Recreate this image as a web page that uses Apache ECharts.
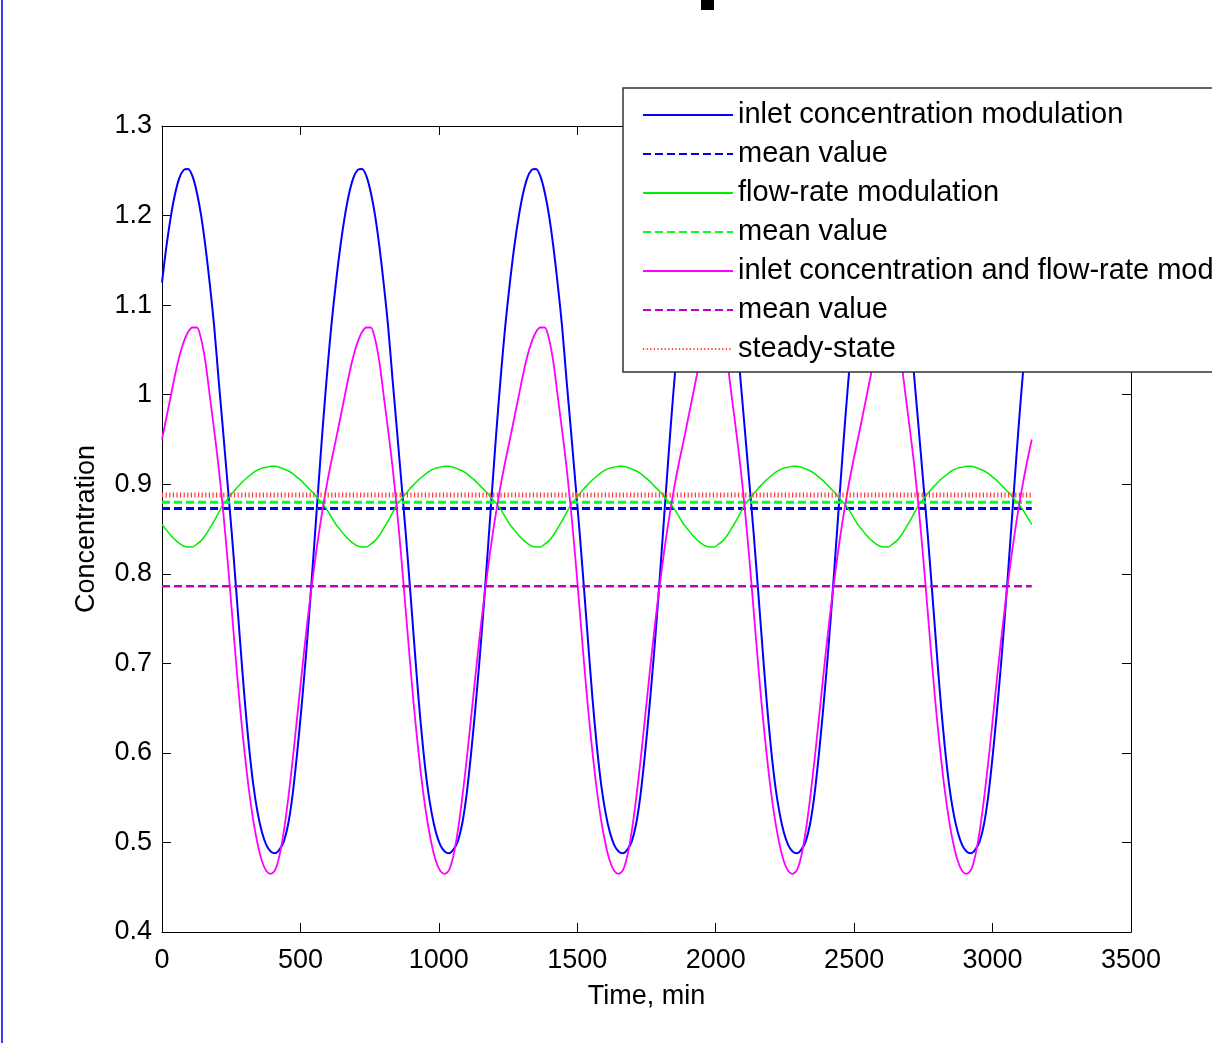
<!DOCTYPE html>
<html>
<head>
<meta charset="utf-8">
<script src="https://cdn.jsdelivr.net/npm/echarts@6/dist/echarts.min.js"></script>
<style>
html,body{margin:0;padding:0;background:#fff;}
#chart{width:1212px;height:1043px;}
</style>
</head>
<body>
<div id="chart"></div>
<script>
// time samples (min)
const timeMin = [0,
  15.7, 31.4, 47.1, 62.8, 78.5, 94.2, 110.0, 125.7, 141.4, 157.1, 172.8, 188.5, 204.2, 219.9, 235.6, 251.3, 267.0, 282.7, 298.5, 314.2,
  329.9, 345.6, 361.3, 377.0, 392.7, 408.4, 424.1, 439.8, 455.5, 471.2, 486.9, 502.7, 518.4, 534.1, 549.8, 565.5, 581.2, 596.9, 612.6, 628.3,
  644.0, 659.7, 675.4, 691.2, 706.9, 722.6, 738.3, 754.0, 769.7, 785.4, 801.1, 816.8, 832.5, 848.2, 863.9, 879.6, 895.4, 911.1, 926.8, 942.5,
  958.2, 973.9, 989.6, 1005.3, 1021.0, 1036.7, 1052.4, 1068.1, 1083.8, 1099.6, 1115.3, 1131.0, 1146.7, 1162.4, 1178.1, 1193.8, 1209.5, 1225.2, 1240.9, 1256.6,
  1272.3, 1288.1, 1303.8, 1319.5, 1335.2, 1350.9, 1366.6, 1382.3, 1398.0, 1413.7, 1429.4, 1445.1, 1460.8, 1476.5, 1492.3, 1508.0, 1523.7, 1539.4, 1555.1, 1570.8,
  1586.5, 1602.2, 1617.9, 1633.6, 1649.3, 1665.0, 1680.7, 1696.5, 1712.2, 1727.9, 1743.6, 1759.3, 1775.0, 1790.7, 1806.4, 1822.1, 1837.8, 1853.5, 1869.2, 1885.0,
  1900.7, 1916.4, 1932.1, 1947.8, 1963.5, 1979.2, 1994.9, 2010.6, 2026.3, 2042.0, 2057.7, 2073.5, 2089.2, 2104.9, 2120.6, 2136.3, 2152.0, 2167.7, 2183.4, 2199.1,
  2214.8, 2230.5, 2246.2, 2261.9, 2277.7, 2293.4, 2309.1, 2324.8, 2340.5, 2356.2, 2371.9, 2387.6, 2403.3, 2419.0, 2434.7, 2450.4, 2466.2, 2481.9, 2497.6, 2513.3,
  2529.0, 2544.7, 2560.4, 2576.1, 2591.8, 2607.5, 2623.2, 2638.9, 2654.6, 2670.4, 2686.1, 2701.8, 2717.5, 2733.2, 2748.9, 2764.6, 2780.3, 2796.0, 2811.7, 2827.4,
  2843.1, 2858.8, 2874.6, 2890.3, 2906.0, 2921.7, 2937.4, 2953.1, 2968.8, 2984.5, 3000.2, 3015.9, 3031.6, 3047.3, 3063.1, 3078.8, 3094.5, 3110.2, 3125.9, 3141.6];

// inlet concentration modulation
const inletConc = [
  1.125, 1.165, 1.198, 1.224, 1.242, 1.251, 1.252, 1.244, 1.226, 1.200, 1.165, 1.123, 1.076, 1.018, 0.962, 0.905, 0.848, 0.786, 0.722, 0.660,
  0.607, 0.564, 0.533, 0.511, 0.497, 0.490, 0.488, 0.492, 0.501, 0.520, 0.552, 0.596, 0.647, 0.703, 0.765, 0.832, 0.900, 0.966, 1.026, 1.080,
  1.125, 1.165, 1.198, 1.224, 1.242, 1.251, 1.252, 1.244, 1.226, 1.200, 1.165, 1.123, 1.076, 1.018, 0.962, 0.905, 0.848, 0.786, 0.722, 0.660,
  0.607, 0.564, 0.533, 0.511, 0.497, 0.490, 0.488, 0.492, 0.501, 0.520, 0.552, 0.596, 0.647, 0.703, 0.765, 0.832, 0.900, 0.966, 1.026, 1.080,
  1.125, 1.165, 1.198, 1.224, 1.242, 1.251, 1.252, 1.244, 1.226, 1.200, 1.165, 1.123, 1.076, 1.018, 0.962, 0.905, 0.848, 0.786, 0.722, 0.660,
  0.607, 0.564, 0.533, 0.511, 0.497, 0.490, 0.488, 0.492, 0.501, 0.520, 0.552, 0.596, 0.647, 0.703, 0.765, 0.832, 0.900, 0.966, 1.026, 1.080,
  1.125, 1.165, 1.198, 1.224, 1.242, 1.251, 1.252, 1.244, 1.226, 1.200, 1.165, 1.123, 1.076, 1.018, 0.962, 0.905, 0.848, 0.786, 0.722, 0.660,
  0.607, 0.564, 0.533, 0.511, 0.497, 0.490, 0.488, 0.492, 0.501, 0.520, 0.552, 0.596, 0.647, 0.703, 0.765, 0.832, 0.900, 0.966, 1.026, 1.080,
  1.125, 1.165, 1.198, 1.224, 1.242, 1.251, 1.252, 1.244, 1.226, 1.200, 1.165, 1.123, 1.076, 1.018, 0.962, 0.905, 0.848, 0.786, 0.722, 0.660,
  0.607, 0.564, 0.533, 0.511, 0.497, 0.490, 0.488, 0.492, 0.501, 0.520, 0.552, 0.596, 0.647, 0.703, 0.765, 0.832, 0.900, 0.966, 1.026, 1.080,
  1.125];

// flow-rate modulation
const flowRate = [
  0.855, 0.849, 0.843, 0.838, 0.834, 0.831, 0.830, 0.830, 0.833, 0.837, 0.843, 0.851, 0.859, 0.868, 0.877, 0.883, 0.889, 0.895, 0.900, 0.905,
  0.909, 0.913, 0.916, 0.918, 0.919, 0.920, 0.920, 0.919, 0.917, 0.915, 0.912, 0.908, 0.904, 0.899, 0.894, 0.889, 0.883, 0.878, 0.871, 0.863,
  0.855, 0.849, 0.843, 0.838, 0.834, 0.831, 0.830, 0.830, 0.833, 0.837, 0.843, 0.851, 0.859, 0.868, 0.877, 0.883, 0.889, 0.895, 0.900, 0.905,
  0.909, 0.913, 0.916, 0.918, 0.919, 0.920, 0.920, 0.919, 0.917, 0.915, 0.912, 0.908, 0.904, 0.899, 0.894, 0.889, 0.883, 0.878, 0.871, 0.863,
  0.855, 0.849, 0.843, 0.838, 0.834, 0.831, 0.830, 0.830, 0.833, 0.837, 0.843, 0.851, 0.859, 0.868, 0.877, 0.883, 0.889, 0.895, 0.900, 0.905,
  0.909, 0.913, 0.916, 0.918, 0.919, 0.920, 0.920, 0.919, 0.917, 0.915, 0.912, 0.908, 0.904, 0.899, 0.894, 0.889, 0.883, 0.878, 0.871, 0.863,
  0.855, 0.849, 0.843, 0.838, 0.834, 0.831, 0.830, 0.830, 0.833, 0.837, 0.843, 0.851, 0.859, 0.868, 0.877, 0.883, 0.889, 0.895, 0.900, 0.905,
  0.909, 0.913, 0.916, 0.918, 0.919, 0.920, 0.920, 0.919, 0.917, 0.915, 0.912, 0.908, 0.904, 0.899, 0.894, 0.889, 0.883, 0.878, 0.871, 0.863,
  0.855, 0.849, 0.843, 0.838, 0.834, 0.831, 0.830, 0.830, 0.833, 0.837, 0.843, 0.851, 0.859, 0.868, 0.877, 0.883, 0.889, 0.895, 0.900, 0.905,
  0.909, 0.913, 0.916, 0.918, 0.919, 0.920, 0.920, 0.919, 0.917, 0.915, 0.912, 0.908, 0.904, 0.899, 0.894, 0.889, 0.883, 0.878, 0.871, 0.863,
  0.855];

// inlet concentration and flow-rate modulation
const bothMod = [
  0.950, 0.974, 0.998, 1.022, 1.043, 1.059, 1.070, 1.075, 1.075, 1.062, 1.036, 0.998, 0.960, 0.920, 0.873, 0.820, 0.762, 0.703, 0.648, 0.600,
  0.558, 0.524, 0.498, 0.479, 0.468, 0.465, 0.469, 0.485, 0.512, 0.548, 0.590, 0.636, 0.683, 0.728, 0.770, 0.808, 0.843, 0.874, 0.902, 0.927,
  0.950, 0.974, 0.998, 1.022, 1.043, 1.059, 1.070, 1.075, 1.075, 1.062, 1.036, 0.998, 0.960, 0.920, 0.873, 0.820, 0.762, 0.703, 0.648, 0.600,
  0.558, 0.524, 0.498, 0.479, 0.468, 0.465, 0.469, 0.485, 0.512, 0.548, 0.590, 0.636, 0.683, 0.728, 0.770, 0.808, 0.843, 0.874, 0.902, 0.927,
  0.950, 0.974, 0.998, 1.022, 1.043, 1.059, 1.070, 1.075, 1.075, 1.062, 1.036, 0.998, 0.960, 0.920, 0.873, 0.820, 0.762, 0.703, 0.648, 0.600,
  0.558, 0.524, 0.498, 0.479, 0.468, 0.465, 0.469, 0.485, 0.512, 0.548, 0.590, 0.636, 0.683, 0.728, 0.770, 0.808, 0.843, 0.874, 0.902, 0.927,
  0.950, 0.974, 0.998, 1.022, 1.043, 1.059, 1.070, 1.075, 1.075, 1.062, 1.036, 0.998, 0.960, 0.920, 0.873, 0.820, 0.762, 0.703, 0.648, 0.600,
  0.558, 0.524, 0.498, 0.479, 0.468, 0.465, 0.469, 0.485, 0.512, 0.548, 0.590, 0.636, 0.683, 0.728, 0.770, 0.808, 0.843, 0.874, 0.902, 0.927,
  0.950, 0.974, 0.998, 1.022, 1.043, 1.059, 1.070, 1.075, 1.075, 1.062, 1.036, 0.998, 0.960, 0.920, 0.873, 0.820, 0.762, 0.703, 0.648, 0.600,
  0.558, 0.524, 0.498, 0.479, 0.468, 0.465, 0.469, 0.485, 0.512, 0.548, 0.590, 0.636, 0.683, 0.728, 0.770, 0.808, 0.843, 0.874, 0.902, 0.927,
  0.950];

// horizontal reference lines: start/end time and level
const lineSpan = [0, 3141.6];
const meanInletConc = 0.873;
const meanFlowRate = 0.880;
const meanBoth = 0.786;
const steadyState = 0.888;

const legendNames = [
  'inlet concentration modulation',
  'mean value',
  'flow-rate modulation',
  'mean value ',
  'inlet concentration and flow-rate modulation',
  'mean value  ',
  'steady-state'
];

const xTicks = {min: 0, max: 3500, interval: 500};
const yTicks = {min: 0.4, max: 1.3, interval: 0.1};

const FONT = 'Liberation Sans, Arial, Helvetica, sans-serif';

function pairs(vals) { return timeMin.map((t, i) => [t, vals[i]]); }
function hline(v) { return lineSpan.map(t => [t, v]); }

const chart = echarts.init(document.getElementById('chart'), null, {renderer: 'canvas'});

function mkAxis(extra) {
  const base = {
    type: 'value',
    axisLine: {show: true, onZero: false, lineStyle: {color: '#000', width: 1}},
    axisTick: {show: true, inside: true, length: 9, lineStyle: {color: '#000', width: 1}},
    splitLine: {show: false}
  };
  return Object.assign(base, extra);
}

const option = {
  animation: false,
  backgroundColor: '#fff',
  grid: {left: 162, right: 81, top: 126, bottom: 111, containLabel: false},
  graphic: [
    {type: 'rect', left: 1, top: 0, shape: {width: 2, height: 1043}, style: {fill: '#3a3aff'}, z: 100},
    {type: 'rect', left: 701, top: 0, shape: {width: 13, height: 10}, style: {fill: '#000'}, z: 100}
  ],
  legend: {
    orient: 'vertical',
    left: 623,
    top: 88,
    padding: [12, 12, 8, 19],
    itemGap: 9,
    itemWidth: 90,
    itemHeight: 14,
    backgroundColor: '#fff',
    borderColor: '#333',
    borderWidth: 1.5,
    borderRadius: 0,
    data: legendNames,
    formatter: n => n.trim(),
    itemStyle: {opacity: 0},
    textStyle: {fontFamily: FONT, fontSize: 29, color: '#000', lineHeight: 30},
    z: 10
  },
  xAxis: [
    mkAxis({
      position: 'bottom', min: xTicks.min, max: xTicks.max, interval: xTicks.interval,
      axisLabel: {fontFamily: FONT, fontSize: 27, color: '#000', margin: 15, formatter: v => String(v)},
      name: 'Time, min', nameLocation: 'middle', nameGap: 51,
      nameTextStyle: {fontFamily: FONT, fontSize: 27, color: '#000'}
    }),
    mkAxis({
      position: 'top', min: xTicks.min, max: xTicks.max, interval: xTicks.interval,
      axisLabel: {show: false}
    })
  ],
  yAxis: [
    mkAxis({
      position: 'left', min: yTicks.min, max: yTicks.max, interval: yTicks.interval,
      axisLabel: {fontFamily: FONT, fontSize: 27, color: '#000', margin: 10},
      name: 'Concentration', nameLocation: 'middle', nameGap: 62,
      nameTextStyle: {fontFamily: FONT, fontSize: 27, color: '#000'}
    }),
    mkAxis({
      position: 'right', min: yTicks.min, max: yTicks.max, interval: yTicks.interval,
      axisLabel: {show: false}
    })
  ],
  series: [
    {name: legendNames[0], type: 'line', symbol: 'none', smooth: 0.3, data: pairs(inletConc),
      lineStyle: {color: '#0000ff', width: 2}, itemStyle: {color: '#0000ff'}},
    {name: legendNames[1], type: 'line', symbol: 'none', data: hline(meanInletConc),
      lineStyle: {color: '#0000ff', width: 3, type: [8, 4]}, itemStyle: {color: '#0000ff'}},
    {name: legendNames[2], type: 'line', symbol: 'none', smooth: 0.3, data: pairs(flowRate),
      lineStyle: {color: '#00ee00', width: 1.5}, itemStyle: {color: '#00ee00'}},
    {name: legendNames[3], type: 'line', symbol: 'none', data: hline(meanFlowRate),
      lineStyle: {color: '#00ff22', width: 3, type: [8, 4]}, itemStyle: {color: '#00ff22'}},
    {name: legendNames[4], type: 'line', symbol: 'none', smooth: 0.3, data: pairs(bothMod),
      lineStyle: {color: '#ff00ff', width: 1.8}, itemStyle: {color: '#ff00ff'}},
    {name: legendNames[5], type: 'line', symbol: 'none', data: hline(meanBoth),
      lineStyle: {color: '#bf00bf', width: 2.5, type: [8, 4]}, itemStyle: {color: '#bf00bf'}},
    {name: legendNames[6], type: 'line', symbol: 'none', data: hline(steadyState),
      lineStyle: {color: '#ff3b3b', width: 5, type: [1.2, 2.4]}, itemStyle: {color: '#ff3b3b'}}
  ]
};

chart.setOption(option);
</script>
</body>
</html>
